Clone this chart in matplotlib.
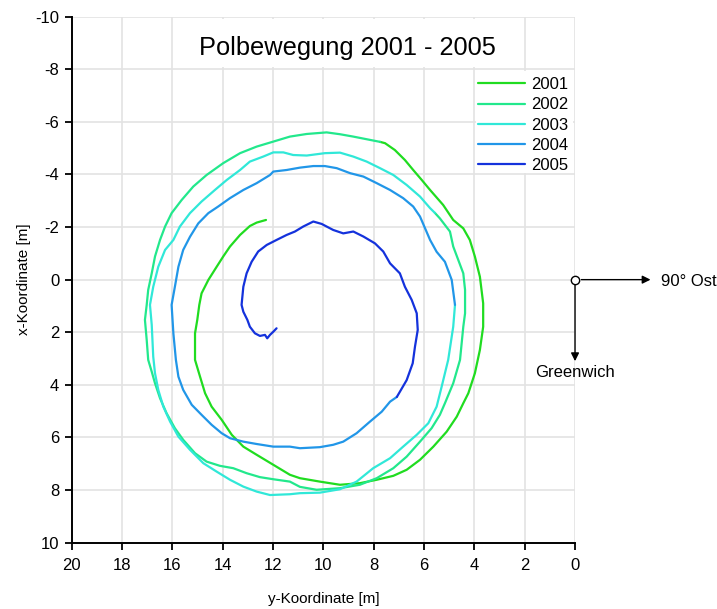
import matplotlib
matplotlib.use('Agg')
import matplotlib.pyplot as plt
from matplotlib.patches import Rectangle

plt.rcParams['font.family'] = ['Liberation Sans', 'DejaVu Sans']
plt.rcParams['axes.unicode_minus'] = False

# Polbewegung: y-Koordinate [m] (horizontal), x-Koordinate [m] (vertikal)
years = ['2001', '2002', '2003', '2004', '2005']
colors = ['#20dc20', '#22e88c', '#30e8d8', '#2196e8', '#1432dc']

yk_2001 = [12.28, 12.65, 12.92, 13.31, 13.71, 13.98, 14.24, 14.57, 14.84, 14.93, 15.01, 15.10,
           15.10, 14.90, 14.70, 14.44, 14.04, 13.64, 13.18, 12.65, 11.99, 11.33, 10.93, 10.14,
           9.34, 8.55, 7.88, 7.22, 6.69, 6.16, 5.63, 5.10, 4.70, 4.44, 4.24, 3.98, 3.78, 3.65,
           3.65, 3.78, 3.98, 4.18, 4.44, 4.84, 5.24, 5.76, 6.09, 6.43, 6.76, 7.16, 7.55, 7.75]
xk_2001 = [-2.27, -2.17, -2.04, -1.70, -1.26, -0.88, -0.49, 0.01, 0.52, 0.96, 1.53, 2.04,
           3.05, 3.69, 4.32, 4.83, 5.33, 5.90, 6.35, 6.66, 7.04, 7.42, 7.55, 7.68,
           7.80, 7.74, 7.61, 7.46, 7.23, 6.85, 6.35, 5.78, 5.21, 4.70, 4.32, 3.56, 2.67, 1.79,
           0.90, -0.11, -0.88, -1.51, -1.95, -2.27, -2.84, -3.41, -3.79, -4.17, -4.55, -4.93, -5.19, -5.24]

yk_2002 = [7.75, 8.28, 8.81, 9.34, 9.87, 10.66, 11.33, 11.99, 12.65, 13.31, 13.98, 14.64,
           15.17, 15.63, 16.03, 16.29, 16.49, 16.69, 16.82, 16.96, 17.02, 17.09, 17.02, 16.96,
           16.82, 16.69, 16.49, 16.23, 15.90, 15.57, 15.10, 14.64, 14.11, 13.58, 13.05, 12.52,
           11.99, 11.33, 10.93, 10.27, 9.34, 8.55, 7.88, 7.22, 6.69, 6.16, 5.70, 5.37, 5.17,
           4.84, 4.57, 4.44, 4.37, 4.37, 4.44, 4.64, 4.84, 4.97, 5.37, 5.57]
xk_2002 = [-5.24, -5.34, -5.44, -5.53, -5.60, -5.54, -5.44, -5.25, -5.06, -4.81, -4.43, -3.98,
           -3.54, -3.03, -2.53, -2.02, -1.51, -0.88, -0.24, 0.39, 0.96, 1.53, 2.29, 3.05,
           3.50, 3.94, 4.51, 5.08, 5.65, 6.09, 6.60, 6.92, 7.08, 7.17, 7.36, 7.51,
           7.59, 7.68, 7.88, 7.99, 7.93, 7.80, 7.55, 7.17, 6.73, 6.16, 5.65, 5.14, 4.70,
           3.94, 3.05, 1.79, 1.28, 0.39, -0.24, -0.75, -1.26, -1.83, -2.33, -2.54]

yk_2003 = [5.57, 5.76, 6.16, 6.69, 7.22, 7.75, 8.28, 8.81, 9.34, 9.94, 10.66, 11.20, 11.59,
           11.99, 12.39, 12.92, 13.31, 13.84, 14.31, 14.84, 15.30, 15.70, 15.96, 16.29, 16.56,
           16.76, 16.89, 16.82, 16.76, 16.69, 16.56, 16.36, 16.09, 15.76, 15.30, 14.77, 14.24,
           13.71, 13.18, 12.65, 12.12, 11.33, 10.93, 10.14, 9.34, 8.68, 8.02, 7.35, 6.83, 6.29,
           5.83, 5.50, 5.30, 5.04, 4.84, 4.77]
xk_2003 = [-2.54, -2.72, -3.16, -3.60, -3.98, -4.24, -4.49, -4.68, -4.83, -4.81, -4.72, -4.74, -4.84,
           -4.84, -4.68, -4.49, -4.17, -3.79, -3.41, -2.97, -2.53, -2.02, -1.51, -1.13, -0.49,
           0.27, 0.96, 1.72, 2.93, 3.56, 4.19, 4.83, 5.40, 5.97, 6.47, 6.98, 7.30,
           7.61, 7.87, 8.06, 8.19, 8.16, 8.12, 8.10, 7.97, 7.68, 7.17, 6.79, 6.35, 5.90,
           5.46, 4.83, 4.07, 3.05, 1.79, 0.96]

yk_2004 = [4.77, 4.90, 5.17, 5.50, 5.76, 6.16, 6.43, 6.83, 7.35, 7.88, 8.41, 8.94, 9.47, 9.94,
           10.40, 10.93, 11.46, 11.99, 12.12, 12.65, 13.18, 13.71, 14.18, 14.57, 14.97, 15.30,
           15.57, 15.76, 15.90, 16.03, 15.96, 15.86, 15.76, 15.57, 15.23, 14.84, 14.44, 14.04,
           13.71, 13.18, 12.65, 11.99, 11.33, 10.93, 10.14, 9.61, 9.21, 8.68, 8.15, 7.68, 7.35, 7.08]
xk_2004 = [0.96, 0.01, -0.68, -1.06, -1.51, -2.40, -2.78, -3.10, -3.41, -3.67, -3.92, -4.05, -4.24, -4.32,
           -4.32, -4.26, -4.17, -4.11, -3.98, -3.67, -3.41, -3.10, -2.78, -2.53, -2.14, -1.63,
           -1.13, -0.49, 0.27, 0.96, 2.04, 3.05, 3.69, 4.19, 4.76, 5.14, 5.52, 5.84,
           6.03, 6.16, 6.25, 6.35, 6.35, 6.41, 6.37, 6.28, 6.16, 5.84, 5.40, 5.02, 4.64, 4.46]

yk_2005 = [7.08, 6.69, 6.45, 6.36, 6.25, 6.29, 6.49, 6.76, 6.96, 7.35, 7.62, 7.95, 8.41, 8.81,
           9.21, 9.61, 10.07, 10.40, 10.80, 11.13, 11.46, 11.86, 12.25, 12.59, 12.85, 13.05,
           13.18, 13.25, 13.18, 13.02, 12.92, 12.72, 12.52, 12.32, 12.23, 12.12, 11.99, 11.86]
xk_2005 = [4.46, 3.82, 3.18, 2.55, 1.91, 1.28, 0.77, 0.27, -0.24, -0.62, -1.07, -1.38, -1.64, -1.83,
           -1.76, -1.89, -2.12, -2.21, -2.02, -1.83, -1.70, -1.51, -1.32, -1.07, -0.68, -0.24,
           0.27, 0.96, 1.22, 1.53, 1.79, 2.04, 2.14, 2.10, 2.23, 2.10, 1.98, 1.85]

yk_all = [yk_2001, yk_2002, yk_2003, yk_2004, yk_2005]
xk_all = [xk_2001, xk_2002, xk_2003, xk_2004, xk_2005]
ticks = [0, 2, 4, 6, 8, 10, 12, 14, 16, 18, 20]
yticks = [-10, -8, -6, -4, -2, 0, 2, 4, 6, 8, 10]

fig = plt.figure(figsize=(7.17, 6.09), dpi=100)
ax = fig.add_axes([0.1, 0.109, 0.702, 0.8636])

for yk, xk, year, col in zip(yk_all, xk_all, years, colors):
    ax.plot(yk, xk, color=col, lw=1.6, label=year, zorder=3, solid_capstyle='round')

ax.set_xlim(20, 0)
ax.set_ylim(10, -10)
ax.set_xticks(ticks)
ax.set_yticks(yticks)
ax.set_axisbelow(True)
ax.grid(True, color='#e3e3e3', lw=1.2)
for s in ['top', 'right']:
    ax.spines[s].set_visible(False)
for s in ['left', 'bottom']:
    ax.spines[s].set_linewidth(1.4)
ax.tick_params(direction='out', length=5, width=1.3, labelsize=12)
ax.tick_params(axis='x', pad=6)
ax.tick_params(axis='y', pad=4)

ax.set_xlabel('y-Koordinate [m]', fontsize=11, labelpad=14)
ax.set_ylabel('x-Koordinate [m]', fontsize=11, labelpad=3)

# weisse Felder hinter Titel und Legende
ax.add_patch(Rectangle((3.0, -9.93), 12.0, 1.86, facecolor='white', edgecolor='none', zorder=1))
ax.add_patch(Rectangle((0.07, -7.93), 3.86, 3.86, facecolor='white', edgecolor='none', zorder=1))

ax.text(0.547, 0.927, 'Polbewegung 2001 - 2005', transform=ax.transAxes,
        ha='center', va='baseline', fontsize=18.3, zorder=4)

ax.legend(loc='upper left', bbox_to_anchor=(0.807, 0.885), frameon=False, fontsize=12,
          borderpad=0, borderaxespad=0, handlelength=2.8, handletextpad=0.4, labelspacing=0.31)

# Richtungspfeile am Ursprung
ax.plot([0], [0], marker='o', ms=6, mfc='white', mec='black', mew=1, clip_on=False, zorder=5)
ax.annotate('', xy=(-3.0, 0), xytext=(-0.25, 0), annotation_clip=False,
            arrowprops=dict(arrowstyle='-|>', color='black', lw=1, mutation_scale=12, shrinkA=0, shrinkB=0))
ax.annotate('', xy=(0, 3.1), xytext=(0, 0.18), annotation_clip=False,
            arrowprops=dict(arrowstyle='-|>', color='black', lw=1, mutation_scale=12, shrinkA=0, shrinkB=0))
ax.text(-3.4, 0, '90° Ost', ha='left', va='center_baseline', fontsize=12, clip_on=False)
ax.text(0, 3.25, 'Greenwich', ha='center', va='top', fontsize=12, clip_on=False)

fig.savefig('out.png', dpi=100)
